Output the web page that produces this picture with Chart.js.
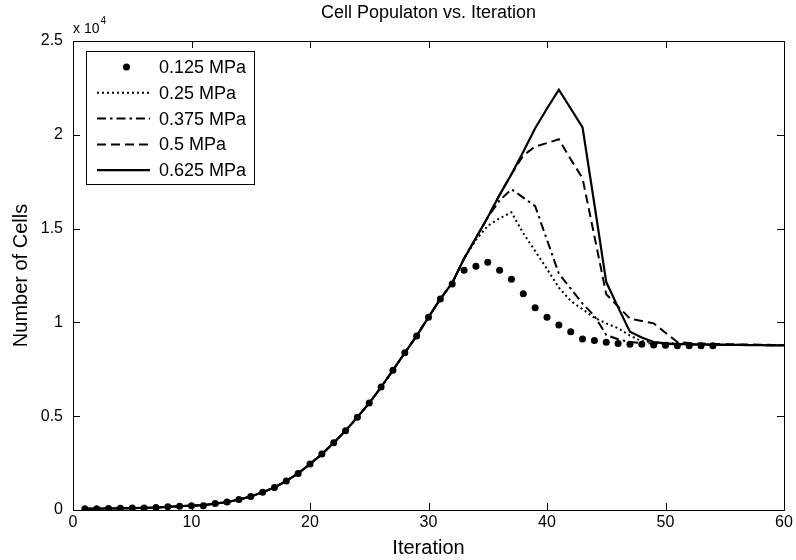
<!DOCTYPE html>
<html>
<head>
<meta charset="utf-8">
<script src="https://cdn.jsdelivr.net/npm/chart.js@4.4.0/dist/chart.umd.min.js"></script>
<style>
  html, body { margin: 0; padding: 0; background: #fff; }
  #wrap { width: 796px; height: 560px; }
</style>
</head>
<body>
<div id="wrap"><canvas id="c" width="796" height="560"></canvas></div>
<script>
// ---- data ----
const chartTitle = "Cell Populaton vs. Iteration";
const xTitle = "Iteration";
const yTitle = "Number of Cells";
const seriesLabels = ["0.125 MPa", "0.25 MPa", "0.375 MPa", "0.5 MPa", "0.625 MPa"];

const dotIterations = [1,2,3,4,5,6,7,8,9,10,11,12,13,14,15,16,17,18,19,20,21,22,23,24,25,26,27,28,29,30,
  31,32,33,34,35,36,37,38,39,40,41,42,43,44,45,46,47,48,49,50,51,52,53,54];
const lineIterations = [1,2,3,4,5,6,7,8,9,10,11,12,13,14,15,16,17,18,19,20,21,22,23,24,25,26,27,28,29,30,
  31,32,33,34,35,36,37,38,39,40,41,42,43,44,45,46,47,48,49,50,51,52,53,54,55,56,57,58,59,60];

const p0125 = [60,70,80,90,100,110,130,170,200,230,230,340,420,560,720,950,1200,1550,1950,2450,
  2980,3580,4230,4950,5700,6550,7450,8380,9280,10280,11250,12050,12780,12990,13200,12780,12300,11530,10780,10270,
  9860,9500,9110,9030,8940,8880,8830,8830,8800,8780,8760,8760,8760,8760];
const p025 = [60,70,80,90,100,110,130,170,200,230,260,340,420,560,720,950,1200,1550,1950,2450,
  2980,3580,4230,4950,5700,6550,7450,8380,9280,10280,11250,12100,13400,14400,15150,15550,15870,14750,13800,12850,
  11850,11150,10700,10250,9950,9690,9300,9000,8950,8900,8870,8850,8840,8830,8820,8810,8800,8790,8790,8780];
const p0375 = [60,70,80,90,100,110,130,170,200,230,260,340,420,560,720,950,1200,1550,1950,2450,
  2980,3580,4230,4950,5700,6550,7450,8380,9280,10280,11250,12100,13400,14500,15600,16500,17100,16650,16200,14400,
  12600,11800,11000,10350,9330,9100,8950,8900,8870,8850,8840,8830,8820,8810,8800,8800,8790,8790,8780,8780];
const p05 = [60,70,80,90,100,110,130,170,200,230,260,340,420,560,720,950,1200,1550,1950,2450,
  2980,3580,4230,4950,5700,6550,7450,8380,9280,10280,11250,12100,13400,14500,15600,16800,17900,18900,19370,19560,
  19760,18700,17680,14600,11500,10850,10200,10080,9950,9450,8950,8900,8870,8850,8840,8830,8820,8810,8800,8790];
const p0625 = [60,70,80,90,100,110,130,170,200,230,260,340,420,560,720,950,1200,1550,1950,2450,
  2980,3580,4230,4950,5700,6550,7450,8380,9280,10280,11250,12100,13400,14500,15600,16800,17900,19100,20350,21400,
  22400,21400,20400,16300,12150,10800,9500,9200,8950,8880,8850,8830,8820,8810,8800,8800,8790,8790,8780,8780];

const xTicks = [0,10,20,30,40,50,60];
const yTicks = [0,5000,10000,15000,20000,25000];
const yTickLabels = ["0","0.5","1","1.5","2","2.5"];
const yExponent = "4";

// ---- build chart ----
const FONT = "'Liberation Sans', Arial, Helvetica, sans-serif";
function pts(xs, ys) { return ys.map((v, i) => ({x: xs[i], y: v})); }

const datasets = [
  {label: seriesLabels[0], data: pts(dotIterations, p0125), showLine: false, pointRadius: 3.5,
   pointBackgroundColor: '#000', pointBorderColor: '#000', pointBorderWidth: 0, borderColor: '#000'},
  {label: seriesLabels[1], data: pts(lineIterations, p025), borderDash: [2, 3], borderWidth: 2},
  {label: seriesLabels[2], data: pts(lineIterations, p0375), borderDash: [9, 4, 2.5, 4], borderWidth: 2},
  {label: seriesLabels[3], data: pts(lineIterations, p05), borderDash: [9, 5], borderWidth: 2},
  {label: seriesLabels[4], data: pts(lineIterations, p0625), borderDash: [], borderWidth: 2.2}
];
datasets.forEach(d => {
  d.borderColor = '#000';
  d.backgroundColor = '#000';
  d.tension = 0;
  if (d.showLine !== false) { d.pointRadius = 0; }
  d.fill = false;
});

const decor = {
  id: 'decor',
  afterDraw(chart) {
    const ctx = chart.ctx;
    const a = chart.chartArea;
    const xs = chart.scales.x, ys = chart.scales.y;
    ctx.save();
    // full box
    ctx.strokeStyle = '#000';
    ctx.lineWidth = 1;
    ctx.setLineDash([]);
    ctx.strokeRect(Math.round(a.left) + 0.5, Math.round(a.top) + 0.5,
                   Math.round(a.right - a.left), Math.round(a.bottom - a.top));
    // inward ticks
    const tl = 7;
    ctx.beginPath();
    xTicks.forEach(v => {
      const px = Math.round(xs.getPixelForValue(v)) + 0.5;
      ctx.moveTo(px, a.bottom); ctx.lineTo(px, a.bottom - tl);
      ctx.moveTo(px, a.top); ctx.lineTo(px, a.top + tl);
    });
    yTicks.forEach(v => {
      const py = Math.round(ys.getPixelForValue(v)) + 0.5;
      ctx.moveTo(a.left, py); ctx.lineTo(a.left + tl, py);
      ctx.moveTo(a.right, py); ctx.lineTo(a.right - tl, py);
    });
    ctx.stroke();

    ctx.fillStyle = '#000';
    // title
    ctx.font = '18px ' + FONT;
    ctx.textAlign = 'center';
    ctx.textBaseline = 'middle';
    ctx.fillText(chartTitle, (a.left + a.right) / 2, 13);
    // axis titles
    ctx.font = '20px ' + FONT;
    ctx.fillText(xTitle, (a.left + a.right) / 2, 548);
    ctx.save();
    ctx.translate(21, (a.top + a.bottom) / 2);
    ctx.rotate(-Math.PI / 2);
    ctx.fillText(yTitle, 0, 0);
    ctx.restore();
    // exponent
    ctx.textAlign = 'left';
    ctx.textBaseline = 'alphabetic';
    ctx.font = '14px ' + FONT;
    ctx.fillText('x 10', a.left, a.top - 8);
    const w = ctx.measureText('x 10').width;
    ctx.font = '10px ' + FONT;
    ctx.fillText(yExponent, a.left + w + 1, a.top - 17);

    // legend
    const lx = a.left + 13, ly = a.top + 10, lw = 168, lh = 133;
    ctx.fillStyle = '#fff';
    ctx.fillRect(lx, ly, lw, lh);
    ctx.strokeStyle = '#000';
    ctx.lineWidth = 1;
    ctx.strokeRect(lx + 0.5, ly + 0.5, lw, lh);
    ctx.font = '18px ' + FONT;
    ctx.textBaseline = 'middle';
    chart.data.datasets.forEach((d, i) => {
      const y = ly + 16 + i * 25.8;
      const x0 = lx + 11, x1 = lx + 64;
      if (d.showLine === false) {
        ctx.fillStyle = '#000';
        ctx.beginPath();
        ctx.arc((x0 + x1) / 2 + 3, y, 3.5, 0, Math.PI * 2);
        ctx.fill();
      } else {
        ctx.strokeStyle = '#000';
        ctx.lineWidth = d.borderWidth;
        ctx.setLineDash(d.borderDash || []);
        ctx.beginPath();
        ctx.moveTo(x0, y); ctx.lineTo(x1, y);
        ctx.stroke();
        ctx.setLineDash([]);
      }
      ctx.fillStyle = '#000';
      ctx.textAlign = 'left';
      ctx.fillText(d.label, lx + 73, y + 1);
    });
    ctx.restore();
  }
};

new Chart(document.getElementById('c'), {
  type: 'line',
  data: { datasets },
  options: {
    responsive: false,
    animation: false,
    devicePixelRatio: 1,
    layout: { padding: { left: 0, right: 12, top: 41, bottom: 0 } },
    plugins: { legend: { display: false }, title: { display: false }, tooltip: { enabled: false } },
    scales: {
      x: {
        type: 'linear', min: 0, max: 60,
        afterFit: s => { s.height = 50; },
        afterBuildTicks: s => { s.ticks = xTicks.map(v => ({value: v})); },
        ticks: { color: '#000', font: { family: FONT, size: 16 }, padding: 3, maxRotation: 0,
                 callback: v => String(v) },
        grid: { display: true, drawOnChartArea: false, drawTicks: false },
        border: { display: true, color: '#000', width: 1 }
      },
      y: {
        min: 0, max: 25000,
        afterFit: s => { s.width = 73; },
        afterBuildTicks: s => { s.ticks = yTicks.map(v => ({value: v})); },
        ticks: { color: '#000', font: { family: FONT, size: 16 }, padding: 10,
                 callback: (v) => { const i = yTicks.indexOf(v); return i >= 0 ? yTickLabels[i] : ''; } },
        grid: { display: true, drawOnChartArea: false, drawTicks: false },
        border: { display: true, color: '#000', width: 1 }
      }
    }
  },
  plugins: [decor]
});
</script>
</body>
</html>
